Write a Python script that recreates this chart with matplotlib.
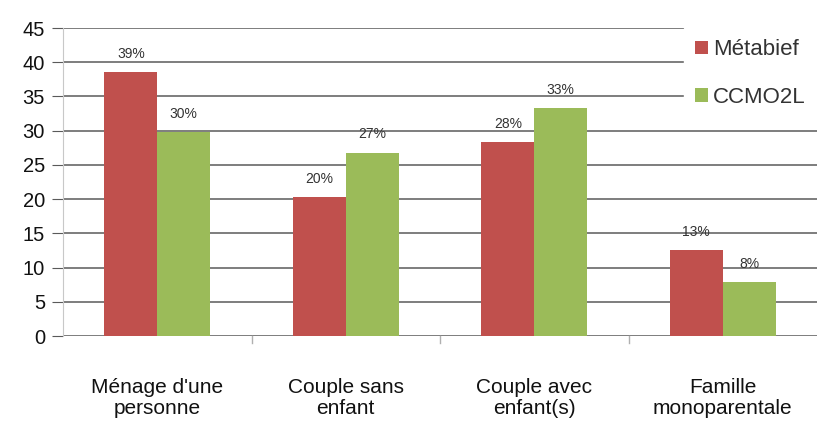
import matplotlib
matplotlib.use("Agg")
import matplotlib.pyplot as plt
import numpy as np

categories = ["Ménage d'une\npersonne", "Couple sans\nenfant", "Couple avec\nenfant(s)", "Famille\nmonoparentale"]
series_names = ["Métabief", "CCMO2L"]
metabief = [38.6, 20.3, 28.4, 12.6]
ccmo2l = [29.8, 26.8, 33.3, 7.9]
metabief_labels = ["39%", "20%", "28%", "13%"]
ccmo2l_labels = ["30%", "27%", "33%", "8%"]
yticks = [0, 5, 10, 15, 20, 25, 30, 35, 40, 45]

plt.rcParams['font.family'] = ['Liberation Sans', 'DejaVu Sans']

fig = plt.figure(figsize=(8.17, 4.21), dpi=100)
ax = fig.add_axes([63/817, 1-336/421, 754/817, (336-28)/421])

x = np.arange(len(categories))
w = 0.28
red = "#C0504D"
green = "#9BBB59"
b1 = ax.bar(x - w/2, metabief, w, color=red, label=series_names[0], zorder=3)
b2 = ax.bar(x + w/2, ccmo2l, w, color=green, label=series_names[1], zorder=3)

for bars, labs in ((b1, metabief_labels), (b2, ccmo2l_labels)):
    for r, t in zip(bars, labs):
        ax.annotate(t, (r.get_x() + r.get_width()/2, r.get_height()),
                    xytext=(0, 8), textcoords="offset points",
                    ha="center", va="bottom", fontsize=10, color="#333333", zorder=4)

ax.set_ylim(0, 45)
ax.set_xlim(-0.5, 3.5)
ax.set_yticks(yticks)
ax.yaxis.grid(True, color="#5a5a5a", lw=1.1, zorder=0)
ax.set_axisbelow(True)
for s in ["top", "right", "bottom"]:
    ax.spines[s].set_visible(False)
ax.spines["left"].set_color("#c8c8c8")
ax.tick_params(axis="y", length=8, color="#5a5a5a", labelsize=14.5, pad=5, labelcolor="#111111")
ax.set_xticks(x)
ax.set_xticklabels(categories, fontsize=15, color="#111111", linespacing=1.15)
ax.tick_params(axis="x", length=0, pad=30)
for b in [0.5, 1.5, 2.5]:
    ax.plot([b, b], [0, -1.0], color="#b0b0b0", lw=1, clip_on=False)

leg = ax.legend(loc="upper right", bbox_to_anchor=(1.0, 1.0), frameon=True,
                facecolor="white", edgecolor="white", framealpha=1.0, fontsize=16,
                handlelength=0.55, handleheight=0.55, handletextpad=0.25, labelspacing=1.2,
                borderpad=0.5, borderaxespad=0.0, fancybox=False)
for t in leg.get_texts():
    t.set_color("#333333")

fig.savefig("out.png", dpi=100)
